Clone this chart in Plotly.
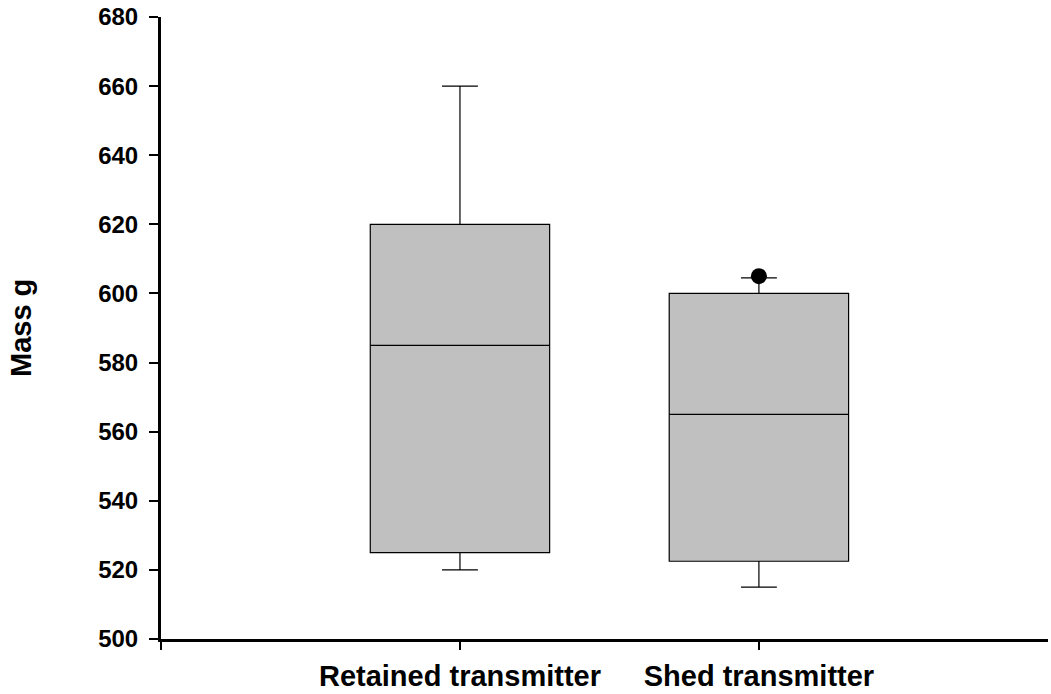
import plotly.graph_objects as go

categories = ["Retained transmitter", "Shed transmitter"]
positions = [1, 2]
q1 = [525, 522.5]
median = [585, 565]
q3 = [620, 600]
lower_whisker = [520, 515]
upper_whisker = [660, 604.5]
outlier_pos = [2]
outlier_vals = [605]

y_ticks = list(range(500, 681, 20))

FONT = "Arial, 'Liberation Sans', sans-serif"

fig = go.Figure()
for i in range(len(categories)):
    fig.add_trace(go.Box(
        x=[positions[i]],
        q1=[q1[i]], median=[median[i]], q3=[q3[i]],
        lowerfence=[lower_whisker[i]], upperfence=[upper_whisker[i]],
        width=0.6, whiskerwidth=0.2,
        fillcolor="#c0c0c0",
        line=dict(color="#000000", width=1.2),
        boxpoints=False,
        showlegend=False,
        hoverinfo="skip",
    ))

fig.add_trace(go.Scatter(
    x=outlier_pos, y=outlier_vals, mode="markers",
    marker=dict(color="#000000", size=16, line=dict(width=0)),
    showlegend=False, hoverinfo="skip",
))

fig.update_layout(
    width=1051, height=694,
    margin=dict(l=161, r=3, t=17, b=55),
    paper_bgcolor="white", plot_bgcolor="white",
    font=dict(family=FONT, color="black"),
    xaxis=dict(
        range=[0, 2.967], automargin=False,
        tickmode="array", tickvals=[0] + positions, ticktext=[""] + categories,
        ticks="outside", ticklen=8, tickwidth=1.5, tickcolor="black",
        showline=True, linewidth=3, linecolor="black",
        showgrid=False, zeroline=False,
        tickfont=dict(family=FONT, size=29, color="black", weight="bold"),
        ticklabelstandoff=1,
    ),
    yaxis=dict(
        range=[500, 680], automargin=False,
        tickmode="array", tickvals=y_ticks, ticktext=[str(v) for v in y_ticks],
        ticks="outside", ticklen=9, tickwidth=1.5, tickcolor="black",
        showline=True, linewidth=3, linecolor="black",
        showgrid=False, zeroline=False,
        tickfont=dict(family=FONT, size=24, color="black", weight="bold"),
        ticklabelstandoff=6,
    ),
    annotations=[dict(
        text="<b>Mass g</b>", textangle=-90,
        xref="paper", yref="paper", x=0, y=0.5,
        xanchor="center", yanchor="middle", xshift=-140,
        showarrow=False, font=dict(family=FONT, size=29, color="black"),
    )],
)

fig.write_html("out.html")
